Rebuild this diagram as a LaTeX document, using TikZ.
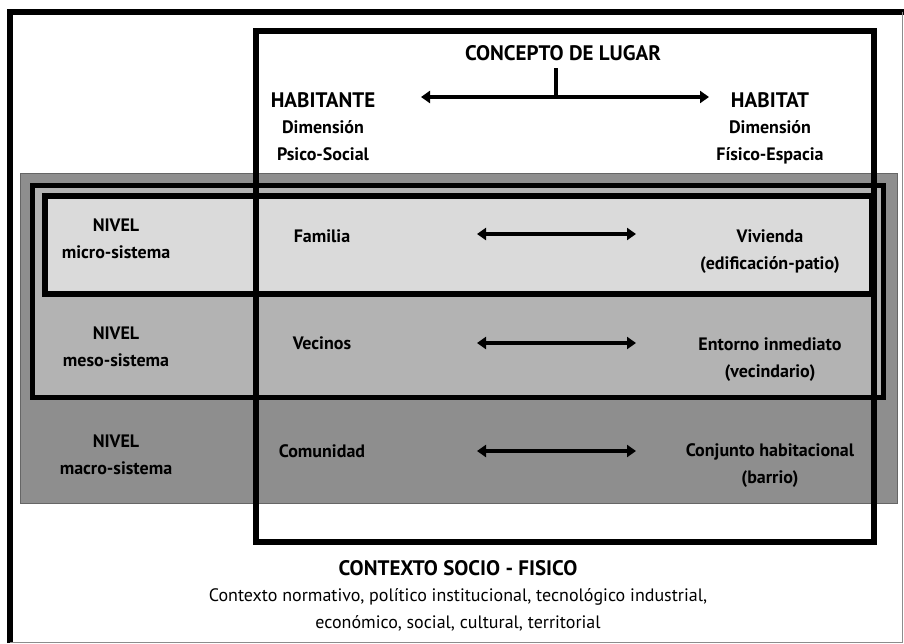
\documentclass[tikz,border=0pt]{standalone}
\usepackage{fontspec}
\setmainfont{PT Sans}
\usetikzlibrary{arrows.meta}
\usetikzlibrary{positioning}
\definecolor{macrogray}{RGB}{142,142,142}
\definecolor{mesogray}{RGB}{179,179,179}
\definecolor{microgray}{RGB}{218,218,218}

\begin{document}
\begin{tikzpicture}[
		x=1pt,y=-1pt,
		ttl/.style={font=\fontsize{21}{24}\selectfont\bfseries,inner sep=0pt,anchor=base},
		lbl/.style={font=\fontsize{18}{27}\selectfont\bfseries,align=center,inner sep=0pt,anchor=base},
		txt/.style={font=\fontsize{18}{27}\selectfont,align=center,inner sep=0pt,anchor=base},
		link/.style={{Triangle[width=12pt,length=9pt]}-{Triangle[width=12pt,length=9pt]},line width=3.2pt}
	]
	\useasboundingbox (0,0) rectangle (904,643);

	% Levels (macro, meso, micro)
	\draw[black!60,line width=1pt,fill=macrogray] (20,173) rectangle (897,503);
	\draw[line width=5pt,fill=mesogray] (32.5,185.5) rectangle (883.5,397);
	\draw[line width=6pt,fill=microgray] (44.5,196) rectangle (872,294);

	% Concept frame
	\draw[line width=6pt] (256,30.5) rectangle (873.5,542);

	% Outer frame
	\draw[line width=6pt] (10,643) -- (10,11.5) -- (904,11.5);
	\draw[black!45,line width=0.8pt] (902,11.5) -- (902,642) -- (10,642);

	% Head: concept of place
	\node[ttl] (concepto) at (563,60) {CONCEPTO DE LUGAR};
	\node[ttl] (habitante) at (323,107) {HABITANTE};
	\node[lbl] (dimhab) at (323,160) {Dimensión\\Psico-Social};
	\node[ttl] (habitat) at (770,107) {HABITAT};
	\node[lbl] (dimhat) at (770,160) {Dimensión\\Físico-Espacia};

	\coordinate (hL) at (421,97);
	\coordinate (hR) at (709,97);
	\coordinate (hM) at (556,97);
	\coordinate (hT) at (556,68);
	\draw[link] (hL) -- (hR);
	\draw[line width=3.2pt] (hT) -- (hM);

	% Rows
	\node[lbl] (nmicro) at (116,258) {NIVEL\\micro-sistema};
	\node[lbl] (nmeso) at (116,366) {NIVEL\\meso-sistema};
	\node[lbl] (nmacro) at (116,474) {NIVEL\\macro-sistema};

	\node[lbl] (familia) at (322,242) {Familia};
	\node[lbl] (vecinos) at (322,349) {Vecinos};
	\node[lbl] (comunidad) at (322,457) {Comunidad};

	\node[lbl] (vivienda) at (770,269) {Vivienda\\(edificación-patio)};
	\node[lbl] (entorno) at (770,377) {Entorno inmediato\\(vecindario)};
	\node[lbl] (conjunto) at (770,483) {Conjunto habitacional\\(barrio)};

	\foreach \r/\y in {a/234,b/343,c/451} {
		\coordinate (\r L) at (477,\y);
		\coordinate (\r R) at (636,\y);
		\draw[link] (\r L) -- (\r R);
	}

	% Socio-physical context
	\node[ttl] (contexto) at (458,575) {CONTEXTO SOCIO - FISICO};
	\node[txt] (lista) at (458,628) {Contexto normativo, político institucional, tecnológico industrial,\\económico, social, cultural, territorial};

\end{tikzpicture}
\end{document}
